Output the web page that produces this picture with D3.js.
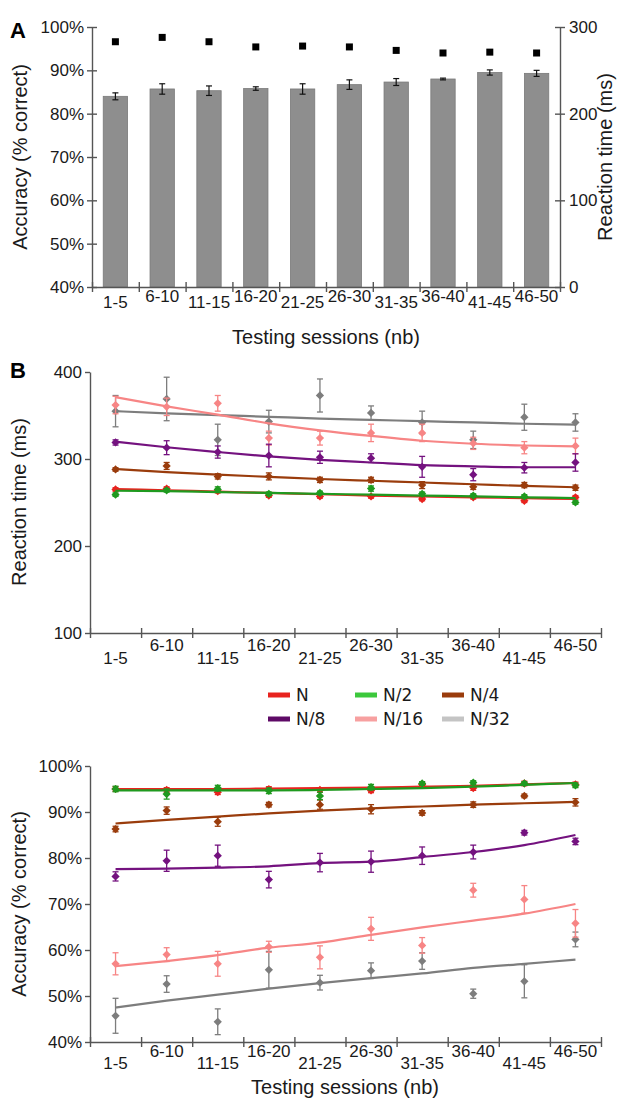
<!DOCTYPE html>
<html>
<head>
<meta charset="utf-8">
<script src="https://cdn.jsdelivr.net/npm/d3@7"></script>
<style>
  body { margin: 0; background: #fff; }
  text { font-family: "Liberation Sans", Arial, sans-serif; fill: #1a1a1a; }
  .axis path, .axis line { stroke: #555; stroke-width: 1.4; }
</style>
</head>
<body>
<svg id="chart" width="632" height="1098"></svg>
<script>
// ---- data ----
const sessions = ["1-5", "6-10", "11-15", "16-20", "21-25", "26-30", "31-35", "36-40", "41-45", "46-50"];

// panel A: overall accuracy (bars) and reaction time (squares)
const accMean = [0.840, 0.857, 0.853, 0.858, 0.857, 0.867, 0.873, 0.880, 0.895, 0.893];
const accErr = [0.008, 0.012, 0.011, 0.004, 0.012, 0.011, 0.008, 0.002, 0.006, 0.007];
const rtMean = [283, 288, 283, 277, 278, 277, 273, 270, 271, 270];
const rtErr = [2, 2, 3, 3, 2, 3, 3, 2, 2, 3];

// panel B: conditions
const conds = ["N", "N/2", "N/4", "N/8", "N/16", "N/32"];
const condColor = ["#e8231f", "#1f9a1f", "#9a3c0c", "#74127f", "#f78585", "#7d7d7d"];
const legendColor = ["#e8231f", "#3cc83c", "#9a3c0c", "#5e0a66", "#f7a0a0", "#c4c4c4"];

// reaction time (ms) per condition
const rtN = [265, 266, 263, 258, 257, 257, 254, 256, 252, 256];
const rtN2 = [259, 264, 265, 260, 261, 266, 260, 258, 257, 250];
const rtN4 = [288, 292, 280, 280, 276, 276, 270, 268, 270, 267];
const rtN8 = [319, 313, 308, 304, 302, 301, 291, 282, 290, 296];
const rtN16 = [362, 360, 364, 324, 324, 330, 330, 318, 313, 315];
const rtN32 = [355, 369, 322, 343, 373, 353, 342, 322, 348, 342];
const rtErrN = [2, 2, 2, 2, 2, 2, 2, 2, 2, 2];
const rtErrN2 = [2, 2, 3, 2, 2, 3, 2, 2, 2, 2];
const rtErrN4 = [2, 4, 3, 4, 3, 3, 4, 3, 3, 3];
const rtErrN8 = [3, 8, 7, 13, 7, 5, 12, 7, 6, 10];
const rtErrN16 = [10, 10, 9, 8, 8, 10, 10, 7, 7, 9];
const rtErrN32 = [18, 25, 18, 13, 19, 8, 13, 10, 15, 10];
// fitted curves (ms)
const rtFitN = [265.5, 264, 262.5, 261, 259.5, 258, 257, 256, 255, 254];
const rtFitN2 = [263.5, 263, 262, 261, 260, 259, 258, 257, 256, 255];
const rtFitN4 = [288.5, 285, 282, 279.5, 277, 275, 273, 271, 269, 267.5];
const rtFitN8 = [320, 313.5, 308, 303, 299, 296, 293, 291.5, 290.5, 290.5];
const rtFitN16 = [371, 360.5, 351, 341, 333, 326.5, 321, 317.5, 315.5, 314.5];
const rtFitN32 = [355, 352.5, 350.5, 348.5, 346.5, 345, 343.5, 342, 340.5, 339.5];

// accuracy per condition
const accN = [0.950, 0.948, 0.943, 0.950, 0.948, 0.947, 0.960, 0.952, 0.962, 0.960];
const accN2 = [0.950, 0.939, 0.952, 0.946, 0.935, 0.954, 0.962, 0.964, 0.962, 0.958];
const accN4 = [0.863, 0.903, 0.879, 0.916, 0.916, 0.906, 0.898, 0.916, 0.935, 0.921];
const accN8 = [0.760, 0.794, 0.805, 0.753, 0.790, 0.792, 0.805, 0.813, 0.855, 0.836];
const accN16 = [0.570, 0.590, 0.570, 0.607, 0.584, 0.646, 0.610, 0.730, 0.710, 0.658];
const accN32 = [0.457, 0.526, 0.444, 0.557, 0.529, 0.555, 0.576, 0.505, 0.532, 0.623];
const accErrN = [0.005, 0.005, 0.005, 0.005, 0.005, 0.005, 0.005, 0.005, 0.005, 0.005];
const accErrN2 = [0.006, 0.011, 0.006, 0.006, 0.008, 0.006, 0.004, 0.004, 0.004, 0.005];
const accErrN4 = [0.006, 0.008, 0.010, 0.005, 0.010, 0.010, 0.005, 0.006, 0.004, 0.008];
const accErrN8 = [0.010, 0.023, 0.023, 0.018, 0.020, 0.023, 0.019, 0.015, 0.005, 0.007];
const accErrN16 = [0.024, 0.015, 0.027, 0.012, 0.025, 0.025, 0.017, 0.015, 0.030, 0.030];
const accErrN32 = [0.038, 0.018, 0.028, 0.040, 0.016, 0.017, 0.018, 0.010, 0.036, 0.016];
// fitted curves
const accFitN = [0.950, 0.950, 0.950, 0.951, 0.952, 0.953, 0.955, 0.957, 0.960, 0.963];
const accFitN2 = [0.947, 0.947, 0.947, 0.947, 0.948, 0.950, 0.952, 0.955, 0.959, 0.963];
const accFitN4 = [0.875, 0.883, 0.890, 0.897, 0.903, 0.908, 0.912, 0.916, 0.919, 0.922];
const accFitN8 = [0.776, 0.777, 0.779, 0.782, 0.789, 0.792, 0.802, 0.813, 0.828, 0.850];
const accFitN16 = [0.565, 0.576, 0.589, 0.605, 0.616, 0.633, 0.649, 0.664, 0.679, 0.700];
const accFitN32 = [0.475, 0.490, 0.503, 0.516, 0.528, 0.539, 0.549, 0.561, 0.570, 0.579];

const rtPts = [rtN, rtN2, rtN4, rtN8, rtN16, rtN32];
const rtErrs = [rtErrN, rtErrN2, rtErrN4, rtErrN8, rtErrN16, rtErrN32];
const rtFits = [rtFitN, rtFitN2, rtFitN4, rtFitN8, rtFitN16, rtFitN32];
const accPts = [accN, accN2, accN4, accN8, accN16, accN32];
const accErrs = [accErrN, accErrN2, accErrN4, accErrN8, accErrN16, accErrN32];
const accFits = [accFitN, accFitN2, accFitN4, accFitN8, accFitN16, accFitN32];

const svg = d3.select("#chart");

// staggered session labels under an x axis
function sessionLabels(g, x, y0, low, high) {
    g.selectAll(".slab")
        .data(sessions)
        .enter()
        .append("text")
        .attr("class", "slab")
        .attr("x", d => x(d) + x.bandwidth() / 2)
        .attr("y", (d, i) => y0 + (i % 2 === 0 ? low : high))
        .attr("text-anchor", "middle")
        .style("font-size", "17px")
        .text(d => d);
}

function edgeAxis(g, x, y0) {
    // ticks sit on the boundaries between sessions
    const edges = d3.scaleLinear().domain([0, sessions.length]).range(x.range());
    const ax = g.append("g")
        .attr("class", "axis")
        .attr("transform", `translate(0,${y0})`)
        .call(d3.axisBottom(edges).tickValues(d3.range(sessions.length + 1)).tickFormat("").tickSize(5).tickSizeOuter(0));
    ax.selectAll(".tick line").attr("y1", -5);
}

// ---------------- panel A ----------------
const gA = svg.append("g");
const xA = d3.scaleBand().domain(sessions).range([92, 560]).paddingInner(0.48).paddingOuter(0.24);
const xAfull = d3.scaleBand().domain(sessions).range([92, 560]);
const yAcc = d3.scaleLinear().domain([0.4, 1]).range([287, 27]);
const yRt = d3.scaleLinear().domain([0, 300]).range([287, 27]);

gA.selectAll(".bar")
    .data(accMean)
    .enter()
    .append("rect")
    .attr("x", (d, i) => xA(sessions[i]))
    .attr("y", d => yAcc(d))
    .attr("width", xA.bandwidth())
    .attr("height", d => yAcc(0.4) - yAcc(d))
    .attr("fill", "#8e8e8e")
    .attr("stroke", "#7a7a7a")
    .attr("stroke-width", 0.8);

accMean.forEach((m, i) => {
    const cx = xA(sessions[i]) + xA.bandwidth() / 2;
    const lo = yAcc(m - accErr[i]), hi = yAcc(m + accErr[i]);
    gA.append("line").attr("x1", cx).attr("x2", cx).attr("y1", lo).attr("y2", hi).attr("stroke", "#111").attr("stroke-width", 1.2);
    [lo, hi].forEach(yy => gA.append("line").attr("x1", cx - 3).attr("x2", cx + 3).attr("y1", yy).attr("y2", yy).attr("stroke", "#111").attr("stroke-width", 1.2));
});

rtMean.forEach((m, i) => {
    const cx = xA(sessions[i]) + xA.bandwidth() / 2;
    gA.append("line").attr("x1", cx).attr("x2", cx).attr("y1", yRt(m - rtErr[i])).attr("y2", yRt(m + rtErr[i])).attr("stroke", "#111").attr("stroke-width", 1.5);
    gA.append("rect").attr("x", cx - 3.5).attr("y", yRt(m) - 3.5).attr("width", 7).attr("height", 7).attr("fill", "#000");
});

const axLA = gA.append("g").attr("class", "axis").attr("transform", "translate(92,0)")
    .call(d3.axisLeft(yAcc).tickValues([0.4, 0.5, 0.6, 0.7, 0.8, 0.9, 1]).tickFormat(d3.format(".0%")).tickSize(5).tickSizeOuter(0));
axLA.selectAll(".tick line").attr("x1", 5);
axLA.selectAll("text").style("font-size", "17px").attr("x", -8).style("fill", "#1a1a1a");

const axRA = gA.append("g").attr("class", "axis").attr("transform", "translate(560,0)")
    .call(d3.axisRight(yRt).tickValues([0, 100, 200, 300]).tickSize(5).tickSizeOuter(0));
axRA.selectAll(".tick line").attr("x1", -5);
axRA.selectAll("text").style("font-size", "17px").attr("x", 9).style("fill", "#1a1a1a");

edgeAxis(gA, xAfull, 287);
sessionLabels(gA, xAfull, 287, 21, 15);

gA.append("text").attr("x", 326).attr("y", 344).attr("text-anchor", "middle").style("font-size", "20px").text("Testing sessions (nb)");
gA.append("text").attr("transform", "translate(27,157) rotate(-90)").attr("text-anchor", "middle").style("font-size", "20px").text("Accuracy (% correct)");
gA.append("text").attr("transform", "translate(612,157) rotate(-90)").attr("text-anchor", "middle").style("font-size", "20px").text("Reaction time (ms)");
gA.append("text").attr("x", 10).attr("y", 38).style("font-size", "22px").style("font-weight", "bold").style("fill", "#000").text("A");

// ---------------- panel B ----------------
const xB = d3.scaleBand().domain(sessions).range([90, 601]);
const cxB = d => xB(d) + xB.bandwidth() / 2;
const marker = d3.symbol(d3.symbolSquare, 34);
const line = d3.line().curve(d3.curveMonotoneX);

function drawSeries(g, y, pts, errs, fits, capW) {
    // draw grey-ish first so that the red/green end on top like the original
    const order = [5, 4, 3, 2, 0, 1];
    order.forEach(k => {
        const col = condColor[k];
        const s = g.append("g");
        pts[k].forEach((v, i) => {
            const cx = cxB(sessions[i]);
            const lo = y(v - errs[k][i]), hi = y(v + errs[k][i]);
            s.append("line").attr("x1", cx).attr("x2", cx).attr("y1", lo).attr("y2", hi).attr("stroke", col).attr("stroke-width", 1.3);
            [lo, hi].forEach(yy => s.append("line").attr("x1", cx - capW).attr("x2", cx + capW).attr("y1", yy).attr("y2", yy).attr("stroke", col).attr("stroke-width", 1.3));
        });
        s.append("path")
            .attr("d", line(fits[k].map((v, i) => [cxB(sessions[i]), y(v)])))
            .attr("fill", "none").attr("stroke", col).attr("stroke-width", 2.2);
        s.selectAll(".pt")
            .data(pts[k])
            .enter()
            .append("path")
            .attr("d", marker)
            .attr("transform", (v, i) => `translate(${cxB(sessions[i])},${y(v)}) rotate(45)`)
            .attr("fill", col);
    });
}

// B top: reaction time
const gB1 = svg.append("g");
const yRtB = d3.scaleLinear().domain([100, 400]).range([633, 372]);
drawSeries(gB1, yRtB, rtPts, rtErrs, rtFits, 3);
const axB1 = gB1.append("g").attr("class", "axis").attr("transform", "translate(90,0)")
    .call(d3.axisLeft(yRtB).tickValues([100, 200, 300, 400]).tickSize(5).tickSizeOuter(0));
axB1.selectAll("text").style("font-size", "17px").attr("x", -8).style("fill", "#1a1a1a");
edgeAxis(gB1, xB, 633);
sessionLabels(gB1, xB, 633, 31, 18);
gB1.append("text").attr("transform", "translate(26,502) rotate(-90)").attr("text-anchor", "middle").style("font-size", "20px").text("Reaction time (ms)");
gB1.append("text").attr("x", 10).attr("y", 378).style("font-size", "22px").style("font-weight", "bold").style("fill", "#000").text("B");

// legend
const gL = svg.append("g");
conds.forEach((c, k) => {
    const lx = 268 + (k % 3) * 87;
    const ly = 695 + Math.floor(k / 3) * 24;
    gL.append("line").attr("x1", lx).attr("x2", lx + 22).attr("y1", ly).attr("y2", ly).attr("stroke", legendColor[k]).attr("stroke-width", 5);
    gL.append("text").attr("x", lx + 28).attr("y", ly + 6).style("font-family", "'DejaVu Sans', Verdana, sans-serif").style("font-size", "17px").text(c);
});

// B bottom: accuracy
const gB2 = svg.append("g");
const yAccB = d3.scaleLinear().domain([0.4, 1]).range([1042, 766]);
drawSeries(gB2, yAccB, accPts, accErrs, accFits, 3);
const axB2 = gB2.append("g").attr("class", "axis").attr("transform", "translate(90,0)")
    .call(d3.axisLeft(yAccB).tickValues([0.4, 0.5, 0.6, 0.7, 0.8, 0.9, 1]).tickFormat(d3.format(".0%")).tickSize(5).tickSizeOuter(0));
axB2.selectAll("text").style("font-size", "17px").attr("x", -8).style("fill", "#1a1a1a");
edgeAxis(gB2, xB, 1042);
sessionLabels(gB2, xB, 1042, 27, 15);
gB2.append("text").attr("x", 345).attr("y", 1094).attr("text-anchor", "middle").style("font-size", "20px").text("Testing sessions (nb)");
gB2.append("text").attr("transform", "translate(26,904) rotate(-90)").attr("text-anchor", "middle").style("font-size", "20px").text("Accuracy (% correct)");
</script>
</body>
</html>
